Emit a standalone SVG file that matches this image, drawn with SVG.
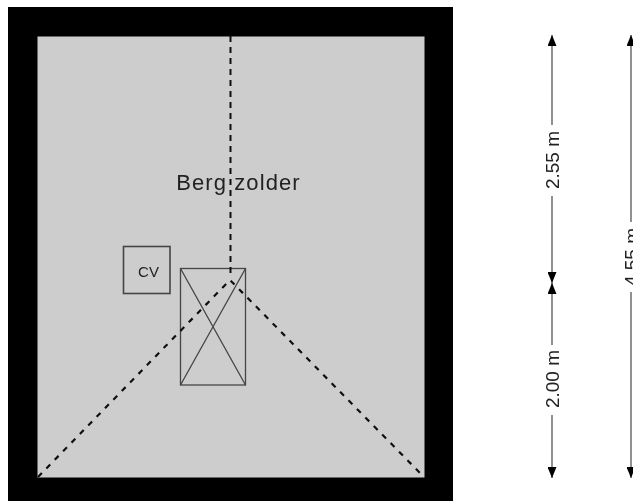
<svg xmlns="http://www.w3.org/2000/svg" width="633" height="501" viewBox="0 0 633 501">
<style>
.dash{fill:none;stroke:#111;stroke-width:2;stroke-dasharray:6 5}
.diag{fill:none;stroke:#111;stroke-width:2.200;stroke-dasharray:5.500 6.500}
.thin{fill:none;stroke:#444;stroke-width:1.300}
.dim{fill:none;stroke:#555;stroke-width:1.300}
.lbl{font-family:"Liberation Sans",Arial,sans-serif;fill:#222}
.dl{font-size:19px}
</style>
<defs>
<marker id="ah" viewBox="0 0 11 9" refX="11" refY="4.500" markerWidth="11" markerHeight="9" markerUnits="userSpaceOnUse" orient="auto"><path d="M0 0L11 4.500L0 9Z" fill="#000"/></marker>
<filter id="soft" x="0" y="0" width="1" height="1"><feGaussianBlur stdDeviation="0.450"/></filter>
</defs>
<rect width="633" height="501" fill="#fff"/>
<g filter="url(#soft)">
<g id="walls"><rect x="8" y="7" width="445" height="500" fill="#000"/></g>
<g id="room"><rect x="37.500" y="36.500" width="387" height="441" fill="#cdcdcd"/>
<text class="lbl" x="238.500" y="190" font-size="22" letter-spacing="1.100" text-anchor="middle">Berg zolder</text></g>
<g id="cv"><rect x="123.500" y="246.500" width="46.500" height="47" fill="none" stroke="#444" stroke-width="1.600"/>
<text class="lbl" x="148.500" y="277" font-size="15" text-anchor="middle">CV</text></g>
<g id="hatch"><rect x="180.500" y="268.500" width="65" height="116.500" class="thin"/>
<path class="thin" d="M180.500 268.500L245.500 385M245.500 268.500L180.500 385"/></g>
<g id="connectors">
<path class="dash" d="M230.500 36V276"/>
<path class="diag" d="M38 477L230 280L424 477"/>
<path class="dim" marker-end="url(#ah)" d="M552 125V35"/>
<path class="dim" marker-end="url(#ah)" d="M552 196V283"/>
<path class="dim" marker-end="url(#ah)" d="M552 345V283"/>
<path class="dim" marker-end="url(#ah)" d="M552 415V478"/>
<path class="dim" marker-end="url(#ah)" d="M631 222V35"/>
<path class="dim" marker-end="url(#ah)" d="M631 292V478"/>
</g>
<g id="dim-labels">
<text class="lbl dl" transform="translate(559 160) rotate(-90)" text-anchor="middle">2.55 m</text>
<text class="lbl dl" transform="translate(559 379) rotate(-90)" text-anchor="middle">2.00 m</text>
<text class="lbl dl" transform="translate(638 257) rotate(-90)" text-anchor="middle">4.55 m</text>
</g>
</g>
</svg>
